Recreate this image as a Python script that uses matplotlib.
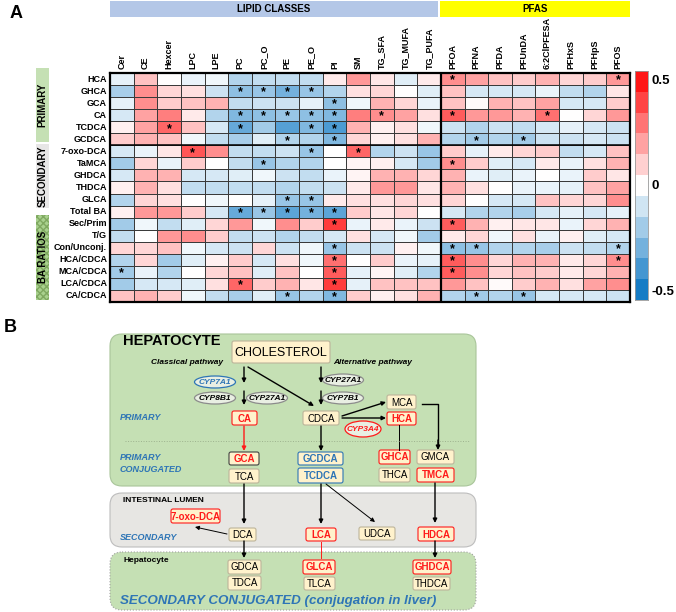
import numpy as np
import matplotlib
matplotlib.use('Agg')
import matplotlib.pyplot as plt
from matplotlib.colors import LinearSegmentedColormap, ListedColormap
from matplotlib.patches import FancyBboxPatch, Rectangle, Ellipse

plt.rcParams['font.family'] = ['Liberation Sans', 'DejaVu Sans']

# ---- panel A data ----
rows = ['HCA', 'GHCA', 'GCA', 'CA', 'TCDCA', 'GCDCA', '7-oxo-DCA', 'TaMCA', 'GHDCA',
        'THDCA', 'GLCA', 'Total BA', 'Sec/Prim', 'T/G', 'Con/Unconj.', 'HCA/CDCA',
        'MCA/CDCA', 'LCA/CDCA', 'CA/CDCA']
cols = ['Cer', 'CE', 'Hexcer', 'LPC', 'LPE', 'PC', 'PC_O', 'PE', 'PE_O', 'PI', 'SM',
        'TG_SFA', 'TG_MUFA', 'TG_PUFA', 'PFOA', 'PFNA', 'PFDA', 'PFUnDA', '6:2ClPFESA',
        'PFHxS', 'PFHpS', 'PFOS']

corr = [
    [-0.05, 0.12, 0.0, -0.04, -0.03, -0.15, -0.12, -0.12, -0.12, 0.04, 0.2, 0.05, -0.06, 0.04, 0.22, 0.18, 0.12, 0.1, 0.15, 0.08, 0.1, 0.2],
    [-0.17, 0.22, 0.08, 0.06, -0.1, -0.22, -0.2, -0.27, -0.2, -0.15, 0.06, 0.08, 0.0, -0.06, 0.12, -0.08, -0.08, -0.08, -0.04, -0.12, -0.15, 0.05],
    [-0.05, 0.22, 0.1, 0.12, 0.15, -0.12, -0.1, -0.1, -0.05, -0.22, -0.03, 0.15, 0.08, -0.04, 0.12, 0.01, 0.15, 0.12, 0.18, -0.08, -0.08, 0.1],
    [-0.08, 0.18, 0.25, 0.04, -0.15, -0.25, -0.22, -0.2, -0.22, -0.25, 0.25, 0.22, 0.18, 0.06, 0.32, 0.2, 0.2, 0.15, 0.28, 0.0, 0.08, 0.2],
    [0.03, 0.18, 0.3, 0.12, -0.08, -0.3, -0.18, -0.33, -0.25, -0.35, 0.15, 0.03, 0.06, -0.03, -0.1, -0.15, -0.1, -0.12, -0.08, -0.05, -0.08, -0.1],
    [0.1, 0.15, 0.12, -0.03, -0.12, -0.17, -0.06, -0.15, -0.15, -0.25, 0.08, 0.03, 0.06, 0.15, -0.15, -0.18, -0.15, -0.18, -0.1, -0.1, -0.08, -0.1],
    [-0.08, -0.04, 0.05, 0.33, 0.22, -0.12, -0.12, -0.1, -0.2, 0.0, 0.3, -0.15, -0.1, -0.2, 0.1, -0.05, 0.04, 0.08, 0.1, -0.12, -0.08, 0.12],
    [-0.18, 0.08, -0.04, 0.1, 0.0, -0.12, -0.2, -0.15, -0.15, 0.0, 0.02, 0.03, -0.08, -0.18, 0.22, 0.1, -0.06, -0.08, 0.04, -0.04, 0.06, 0.15],
    [-0.08, 0.15, 0.15, -0.08, -0.08, -0.06, -0.03, -0.1, -0.12, -0.04, 0.02, 0.15, 0.15, 0.08, 0.15, -0.04, -0.06, -0.04, 0.0, -0.04, 0.1, 0.05],
    [0.03, 0.15, 0.06, -0.12, -0.12, -0.12, -0.12, -0.15, -0.12, -0.1, 0.04, 0.2, 0.2, 0.05, 0.15, 0.06, 0.0, -0.04, -0.04, -0.05, 0.12, 0.18],
    [-0.15, 0.08, 0.06, 0.0, -0.03, 0.0, -0.05, -0.2, -0.2, 0.04, 0.06, 0.06, 0.08, 0.06, 0.08, 0.0, -0.08, -0.08, 0.12, 0.08, 0.08, 0.22],
    [0.03, 0.2, 0.2, 0.1, -0.08, -0.3, -0.2, -0.32, -0.27, -0.32, 0.1, 0.05, 0.08, 0.0, -0.08, -0.15, -0.15, -0.17, -0.08, -0.05, -0.08, -0.05],
    [-0.18, -0.03, -0.12, -0.06, 0.08, 0.2, -0.03, 0.22, 0.1, 0.38, -0.04, 0.04, -0.04, -0.1, 0.32, 0.15, 0.03, 0.05, 0.05, -0.04, 0.08, 0.15],
    [-0.12, 0.0, 0.2, 0.22, 0.1, -0.12, -0.1, -0.15, -0.12, -0.08, 0.06, -0.08, -0.03, -0.18, 0.04, 0.08, -0.03, 0.06, -0.04, 0.03, -0.06, -0.08],
    [0.08, 0.08, 0.12, -0.03, -0.08, -0.1, 0.08, -0.1, -0.03, -0.2, -0.1, -0.1, 0.03, -0.03, -0.22, -0.2, -0.15, -0.15, -0.17, -0.1, -0.12, -0.15],
    [-0.15, 0.08, -0.18, -0.06, 0.03, 0.1, -0.08, 0.06, -0.03, 0.28, 0.0, 0.1, -0.04, -0.05, 0.32, 0.22, 0.08, 0.15, 0.15, 0.04, 0.08, 0.22],
    [-0.18, -0.04, -0.15, 0.0, 0.08, 0.12, -0.06, 0.12, 0.0, 0.32, -0.05, 0.02, -0.06, -0.15, 0.32, 0.22, 0.08, 0.12, 0.1, 0.04, 0.08, 0.15],
    [-0.18, -0.08, -0.08, -0.06, 0.06, 0.3, 0.1, 0.15, 0.05, 0.38, -0.05, 0.12, 0.12, 0.12, 0.2, 0.12, 0.01, 0.1, 0.15, 0.06, 0.18, 0.22],
    [0.12, 0.15, 0.1, -0.03, -0.12, -0.17, -0.06, -0.2, -0.15, -0.25, 0.1, 0.03, 0.06, 0.15, -0.15, -0.18, -0.15, -0.2, -0.08, -0.08, -0.08, -0.1],
]

stars = {
    'HCA': ['PFOA', 'PFOS'],
    'GHCA': ['PC', 'PC_O', 'PE', 'PE_O'],
    'GCA': ['PI'],
    'CA': ['PC', 'PC_O', 'PE', 'PE_O', 'PI', 'TG_SFA', 'PFOA', '6:2ClPFESA'],
    'TCDCA': ['Hexcer', 'PC', 'PE_O', 'PI'],
    'GCDCA': ['PE', 'PI', 'PFNA', 'PFUnDA'],
    '7-oxo-DCA': ['LPC', 'PE_O', 'SM'],
    'TaMCA': ['PC_O', 'PFOA'],
    'GLCA': ['PE', 'PE_O'],
    'Total BA': ['PC', 'PC_O', 'PE', 'PE_O', 'PI'],
    'Sec/Prim': ['PI', 'PFOA'],
    'Con/Unconj.': ['PI', 'PFOA', 'PFNA', 'PFOS'],
    'HCA/CDCA': ['PI', 'PFOA', 'PFOS'],
    'MCA/CDCA': ['Cer', 'PI', 'PFOA'],
    'LCA/CDCA': ['PC', 'PI'],
    'CA/CDCA': ['PE', 'PI', 'PFNA', 'PFUnDA'],
}

W, H = 676, 612
fig = plt.figure(figsize=(W / 100, H / 100), dpi=100)

def frac(x0, y0, x1, y1):
    return [x0 / W, 1 - y1 / H, (x1 - x0) / W, (y1 - y0) / H]

ov = fig.add_axes([0, 0, 1, 1])
ov.set_xlim(0, W)
ov.set_ylim(H, 0)
ov.axis('off')

cmap = LinearSegmentedColormap.from_list('bwr2', ['#0070C0', '#FFFFFF', '#FF0000'])

# ---- heatmap ----
hx0, hy0, hx1, hy1 = 110, 73, 630, 302
ax = fig.add_axes(frac(hx0, hy0, hx1, hy1))
data = np.array(corr)
ax.pcolormesh(data, cmap=cmap, vmin=-0.5, vmax=0.5, edgecolors='#3a3a3a', linewidth=0.6)
ax.set_xlim(0, len(cols))
ax.set_ylim(len(rows), 0)
ax.set_xticks([])
ax.set_yticks([])
for s in ax.spines.values():
    s.set_linewidth(1.6)
ax.axvline(14, color='black', lw=1.6)
ax.axhline(6, color='black', lw=1.1)
for r, clist in stars.items():
    for c in clist:
        ax.text(cols.index(c) + 0.5, rows.index(r) + 0.62, '*', ha='center', va='center',
                fontsize=9, fontweight='bold')

cw = (hx1 - hx0) / len(cols)
rh = (hy1 - hy0) / len(rows)
for i, c in enumerate(cols):
    ov.text(hx0 + (i + 0.5) * cw, hy0 - 4, c, rotation=90, ha='center', va='bottom',
            fontsize=6.5, fontweight='bold')
for j, r in enumerate(rows):
    ov.text(hx0 - 3, hy0 + (j + 0.5) * rh, r, ha='right', va='center',
            fontsize=6.5, fontweight='bold')

# top header bars
ov.add_patch(Rectangle((110, 1), 328, 16, fc='#B4C7E7', ec='none'))
ov.text(274, 9, 'LIPID CLASSES', ha='center', va='center', fontsize=7, fontweight='bold')
ov.add_patch(Rectangle((440, 1), 190, 16, fc='#FFFF00', ec='none'))
ov.text(535, 9, 'PFAS', ha='center', va='center', fontsize=7, fontweight='bold')

# left group labels
ov.add_patch(Rectangle((36, 68), 13, 74, fc='#C5E0B4', ec='none'))
ov.text(42.5, 105, 'PRIMARY', rotation=90, ha='center', va='center', fontsize=7, fontweight='bold')
ov.add_patch(Rectangle((36, 144), 13, 64, fc='#E7E6E6', ec='none'))
ov.text(42.5, 176, 'SECONDARY', rotation=90, ha='center', va='center', fontsize=7, fontweight='bold')
ov.add_patch(Rectangle((36, 215), 13, 85, fc='#A9D18E', ec='#7FA860', hatch='xxxxx', lw=0))
ov.text(42.5, 257, 'BA RATIOS', rotation=90, ha='center', va='center', fontsize=7, fontweight='bold')

ov.text(10, 14, 'A', ha='left', va='center', fontsize=13, fontweight='bold')
ov.text(4, 328, 'B', ha='left', va='center', fontsize=13, fontweight='bold')

# discrete colorbar
cax = fig.add_axes(frac(635, 71, 648, 300))
nb = 11
bounds = np.linspace(-0.5, 0.5, nb + 1)
centers = (bounds[:-1] + bounds[1:]) / 2
cb_cmap = ListedColormap([cmap((v + 0.5)) for v in centers])
cax.pcolormesh([0, 1], bounds, centers.reshape(-1, 1), cmap=cb_cmap, vmin=-0.5, vmax=0.5)
cax.set_ylim(-0.5, 0.5)
cax.set_xticks([])
cax.set_yticks([])
for s in cax.spines.values():
    s.set_edgecolor('#999999')
    s.set_linewidth(0.6)
ov.text(652, 81, '0.5', ha='left', va='center', fontsize=9.5, fontweight='bold')
ov.text(652, 186, '0', ha='left', va='center', fontsize=9.5, fontweight='bold')
ov.text(651, 292, '-0.5', ha='left', va='center', fontsize=9.5, fontweight='bold')

# ---- panel B diagram ----
RED = '#FF1A1A'
BLUE = '#2E75B6'

def region(x0, y0, x1, y1, fc, ec, ls='-'):
    ov.add_patch(FancyBboxPatch((x0, y0), x1 - x0, y1 - y0,
                                boxstyle='round,pad=0,rounding_size=12',
                                fc=fc, ec=ec, lw=0.8, ls=ls))

def box(x0, y0, x1, y1, label, tc='black', ec='#BDB49A', bold=False, fs=7, lw=0.8):
    ov.add_patch(FancyBboxPatch((x0, y0), x1 - x0, y1 - y0,
                                boxstyle='round,pad=0,rounding_size=2',
                                fc='#FFF2CC', ec=ec, lw=lw))
    ov.text((x0 + x1) / 2, (y0 + y1) / 2 + 0.5, label, ha='center', va='center',
            color=tc, fontsize=fs, fontweight='bold' if bold else 'normal')

def enzyme(cx, cy, label, ec='#8C8C8C', tc='black', w=41, h=12):
    ov.add_patch(Ellipse((cx, cy), w, h, fc='#E9EFE3', ec=ec, lw=0.9))
    ov.text(cx, cy + 0.5, label, ha='center', va='center', fontsize=6,
            fontweight='bold', style='italic', color=tc)

def arrow(x0, y0, x1, y1, c='black', lw=1.0, head=True):
    ov.annotate('', xy=(x1, y1), xytext=(x0, y0),
                arrowprops=dict(arrowstyle='-|>' if head else '-', color=c, lw=lw,
                                mutation_scale=6, shrinkA=0, shrinkB=0))

region(110, 334, 476, 486, '#C5E0B4', '#A9C59A')
region(110, 493, 476, 547, '#E7E6E3', '#BDBDBD')
region(110, 552, 476, 610, '#C5E0B4', '#A0A0A0', ls=':')

ov.text(123, 341, 'HEPATOCYTE', ha='left', va='center', fontsize=10.5, fontweight='bold')
box(232, 341, 330, 363, 'CHOLESTEROL', fs=9)
ov.text(223, 363, 'Classical pathway', ha='right', va='center', fontsize=6,
        fontweight='bold', style='italic')
ov.text(333, 363, 'Alternative pathway', ha='left', va='center', fontsize=6,
        fontweight='bold', style='italic')

arrow(244, 367, 244, 383)
arrow(244, 391, 244, 405)
arrow(248, 367, 314, 406)
arrow(321, 367, 321, 383)
arrow(321, 391, 321, 405)

enzyme(215, 382, 'CYP7A1', ec=BLUE, tc=BLUE)
enzyme(215, 398, 'CYP8B1')
enzyme(267, 398, 'CYP27A1')
enzyme(343, 380, 'CYP27A1')
enzyme(343, 398, 'CYP7B1')
enzyme(363, 429, 'CYP3A4', ec=RED, tc=RED, w=36, h=16)

ov.text(120, 418, 'PRIMARY', ha='left', va='center', fontsize=6.5, fontweight='bold',
        style='italic', color=BLUE)
box(232, 411, 257, 425, 'CA', tc=RED, ec=RED, bold=True)
box(303, 411, 339, 425, 'CDCA')
box(387, 395, 416, 409, 'MCA')
box(387, 412, 416, 425, 'HCA', tc=RED, ec=RED, bold=True)
arrow(342, 416, 386, 402)
arrow(342, 418, 386, 418)
ov.plot([422, 438, 438], [404, 404, 446], color='black', lw=1.0)
arrow(438, 440, 438, 450)
ov.plot([399, 399], [425, 450], color='black', lw=0.7)

ov.plot([125, 470], [441, 441], ls=':', color='#9DB28E', lw=0.7)

ov.text(120, 457, 'PRIMARY', ha='left', va='center', fontsize=6.5, fontweight='bold',
        style='italic', color=BLUE)
ov.text(120, 469, 'CONJUGATED', ha='left', va='center', fontsize=6.5, fontweight='bold',
        style='italic', color=BLUE)
arrow(244, 426, 244, 451, c=RED)
arrow(321, 426, 321, 451)
box(229, 452, 259, 465, 'GCA', tc=RED, ec='#404040', bold=True)
box(229, 469, 259, 483, 'TCA')
box(298, 452, 343, 465, 'GCDCA', tc=BLUE, ec=BLUE, bold=True)
box(298, 468, 343, 483, 'TCDCA', tc=BLUE, ec=BLUE, bold=True)
box(379, 450, 410, 464, 'GHCA', tc=RED, ec=RED, bold=True)
box(417, 450, 454, 464, 'GMCA')
box(379, 468, 410, 482, 'THCA')
box(417, 468, 454, 482, 'TMCA', tc=RED, ec=RED, bold=True)

ov.text(123, 500, 'INTESTINAL LUMEN', ha='left', va='center', fontsize=6, fontweight='bold')
ov.text(120, 537, 'SECONDARY', ha='left', va='center', fontsize=6.5, fontweight='bold',
        style='italic', color=BLUE)
box(171, 509, 220, 523, '7-oxo-DCA', tc=RED, ec=RED, bold=True)
box(229, 528, 256, 541, 'DCA')
box(306, 528, 336, 541, 'LCA', tc=RED, ec=RED, bold=True)
box(359, 527, 395, 540, 'UDCA')
box(418, 527, 454, 541, 'HDCA', tc=RED, ec=RED, bold=True)
arrow(244, 484, 244, 524)
arrow(321, 484, 321, 524)
arrow(326, 484, 375, 522, lw=0.7)
arrow(435, 483, 435, 523)
arrow(227, 534, 195, 527, lw=0.7)

ov.text(123, 560, 'Hepatocyte', ha='left', va='center', fontsize=6, fontweight='bold')
box(228, 560, 261, 574, 'GDCA')
box(228, 576, 261, 590, 'TDCA')
box(303, 560, 335, 574, 'GLCA', tc=RED, ec=RED, bold=True)
box(304, 577, 335, 590, 'TLCA')
box(413, 560, 451, 574, 'GHDCA', tc=RED, ec=RED, bold=True)
box(413, 577, 450, 590, 'THDCA')
arrow(244, 541, 244, 558)
ov.plot([321, 321], [542, 558], color=RED, lw=0.7)
arrow(435, 541, 435, 558)

ov.text(120, 601, 'SECONDARY CONJUGATED (conjugation in liver)', ha='left', va='center',
        fontsize=9.6, fontweight='bold', style='italic', color=BLUE)

fig.savefig('out.png', dpi=100)
